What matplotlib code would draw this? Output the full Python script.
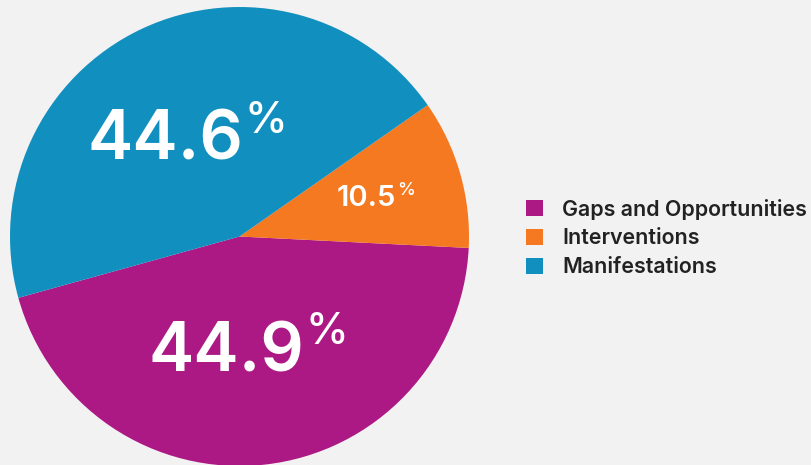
import matplotlib.pyplot as plt
from matplotlib.patches import Patch

categories = ["Gaps and Opportunities", "Interventions", "Manifestations"]
shares = [44.9, 10.5, 44.6]
colors = ["#AC1884", "#F47920", "#118FBF"]

# label anchors in pie units: (x_right_of_number, baseline, fontsize, pct_fontsize, pct_rise)
label_spots = [
    (0.283, -0.587, 49, 31, 0.117),
    (0.683, 0.135, 21, 13, 0.045),
    (0.017, 0.335, 49, 31, 0.117),
]

plt.rcParams["font.family"] = ["Inter", "DejaVu Sans"]

fig = plt.figure(figsize=(8.12, 4.65), dpi=100, facecolor="#F2F2F2")
W, H = 812, 465
cx, cy, r = 239.5, 236.5, 229.5
ax = fig.add_axes([(cx - r) / W, (H - cy - r) / H, 2 * r / W, 2 * r / H])
ax.set_facecolor("#F2F2F2")

wedges, _ = ax.pie(
    shares,
    colors=colors,
    startangle=195.5,
    counterclock=True,
    wedgeprops={"linewidth": 0},
)
ax.set_xlim(-1, 1)
ax.set_ylim(-1, 1)
ax.set_aspect("equal")
ax.axis("off")

for val, (x, y, fs, pfs, rise) in zip(shares, label_spots):
    ax.text(x, y, f"{val:.1f}", color="white", fontsize=fs,
            fontweight="semibold", ha="right", va="baseline")
    ax.text(x + 0.004, y + rise, "%", color="white", fontsize=pfs,
            fontweight="medium", ha="left", va="baseline")

handles = [Patch(facecolor=c, edgecolor="none") for c in colors]
fig.legend(
    handles, categories,
    loc="center left",
    bbox_to_anchor=(526 / W, (H - 238) / H),
    frameon=False,
    prop={"size": 15.4, "weight": "semibold"},
    handlelength=0.8,
    handleheight=0.8,
    handletextpad=0.9,
    labelspacing=0.42,
    borderpad=0,
    borderaxespad=0,
    labelcolor="#222222",
)

fig.savefig("out.png", dpi=100, facecolor=fig.get_facecolor())
